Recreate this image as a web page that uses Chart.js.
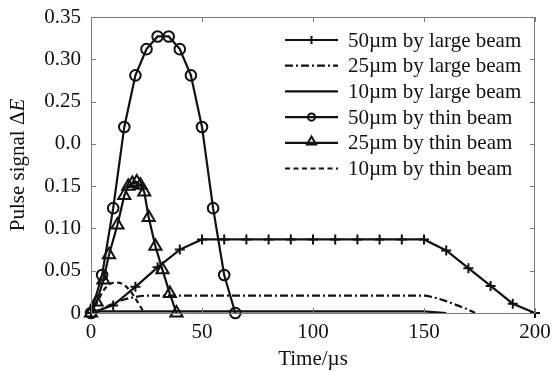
<!DOCTYPE html>
<html>
<head>
<meta charset="utf-8">
<script src="https://cdn.jsdelivr.net/npm/chart.js@4"></script>
<style>
  html, body { margin: 0; padding: 0; background: #fff; }
  #wrap { width: 552px; height: 372px; }
</style>
</head>
<body>
<div id="wrap"><canvas id="pulseChart"></canvas></div>
<script>
// values (time in µs, pulse signal)
const large50X = [0, 10, 20, 30, 40, 50, 60, 70, 80, 90, 100, 110, 120, 130, 140, 150, 160, 170, 180, 190, 200];
const large50Y = [0, 0.009, 0.031, 0.054, 0.075, 0.087, 0.087, 0.087, 0.087, 0.087, 0.087, 0.087, 0.087, 0.087, 0.087, 0.087, 0.074, 0.053, 0.032, 0.011, 0];

const large25X = [0, 5, 10, 15, 20, 25, 150, 155, 160, 165, 170, 173];
const large25Y = [0, 0.005, 0.011, 0.016, 0.019, 0.0205, 0.0205, 0.018, 0.014, 0.009, 0.004, 0];

const large10X = [0, 4, 150, 160];
const large10Y = [0, 0.002, 0.002, 0];

const thin50X = [0, 5, 10, 15, 20, 25, 30, 35, 40, 45, 50, 55, 60, 65];
const thin50Y = [0, 0.045, 0.124, 0.220, 0.281, 0.312, 0.327, 0.327, 0.312, 0.281, 0.220, 0.124, 0.045, 0];

const thin25X = [0, 2.5, 5.6, 8.1, 11.9, 15, 16.8, 18.6, 20.6, 22.3, 24, 26, 29, 32.2, 35.5, 38.5];
const thin25Y = [0, 0.013, 0.039, 0.069, 0.104, 0.139, 0.150, 0.153, 0.155, 0.151, 0.143, 0.113, 0.079, 0.051, 0.023, 0];

const thin10X = [0, 3, 6, 9, 12, 15, 18, 21, 24];
const thin10Y = [0, 0.014, 0.028, 0.035, 0.036, 0.033, 0.025, 0.013, 0];

const seriesNames = ['50µm by large beam', '25µm by large beam', '10µm by large beam',
                     '50µm by thin beam', '25µm by thin beam', '10µm by thin beam'];
const yTickLabels = ['0', '0.05', '0.10', '0.15', '0.0', '0.25', '0.30', '0.35'];
const xTicks = [0, 50, 100, 150, 200];

const FONT = '"Liberation Serif", "Times New Roman", serif';
const INK = '#111';

function toPoints(xs, ys) {
    return xs.map((x, i) => ({ x: x, y: ys[i] }));
}

function makeSet(label, xs, ys, extra) {
    return Object.assign({
        label: label,
        data: toPoints(xs, ys),
        borderColor: INK,
        backgroundColor: 'transparent',
        borderWidth: 2.2,
        pointRadius: 0,
        pointBorderColor: INK,
        pointBackgroundColor: 'transparent',
        pointBorderWidth: 2,
        tension: 0,
        clip: false
    }, extra);
}

const datasets = [
    makeSet(seriesNames[0], large50X, large50Y, { pointStyle: 'cross', pointRadius: 5, legendRadius: 4 }),
    makeSet(seriesNames[1], large25X, large25Y, { borderDash: [8, 3, 2, 3], cubicInterpolationMode: 'monotone' }),
    makeSet(seriesNames[2], large10X, large10Y, {}),
    makeSet(seriesNames[3], thin50X, thin50Y, { pointStyle: 'circle', pointRadius: 5.3, legendRadius: 3.6 }),
    makeSet(seriesNames[4], thin25X, thin25Y, { pointStyle: 'triangle', pointRadius: 7, legendRadius: 5.2 }),
    makeSet(seriesNames[5], thin10X, thin10Y, { borderDash: [5, 3.5], cubicInterpolationMode: 'monotone' })
];

// frame, inward ticks, y title with italic E and the legend
const decorPlugin = {
    id: 'decor',
    afterDraw(chart) {
        const ctx = chart.ctx;
        const a = chart.chartArea;
        const xs = chart.scales.x;
        const ys = chart.scales.y;
        const tl = 5;

        ctx.save();
        ctx.strokeStyle = '#7a7a7a';
        ctx.lineWidth = 1;
        ctx.strokeRect(a.left + 0.5, a.top + 0.5, a.right - a.left - 1, a.bottom - a.top);

        ctx.beginPath();
        xTicks.forEach(v => {
            const px = Math.round(xs.getPixelForValue(v)) + 0.5;
            ctx.moveTo(px, a.bottom); ctx.lineTo(px, a.bottom - tl);
            ctx.moveTo(px, a.top); ctx.lineTo(px, a.top + tl);
        });
        ys.ticks.forEach(t => {
            const py = Math.round(ys.getPixelForValue(t.value)) + 0.5;
            ctx.moveTo(a.left, py); ctx.lineTo(a.left + tl, py);
            ctx.moveTo(a.right, py); ctx.lineTo(a.right - tl, py);
        });
        ctx.stroke();

        // y axis title
        ctx.fillStyle = INK;
        ctx.textBaseline = 'middle';
        ctx.translate(18, (a.top + a.bottom) / 2);
        ctx.rotate(-Math.PI / 2);
        ctx.font = '21px ' + FONT;
        const part1 = 'Pulse signal Δ';
        const w1 = ctx.measureText(part1).width;
        ctx.font = 'italic 21px ' + FONT;
        const w2 = ctx.measureText('E').width;
        const start = -(w1 + w2) / 2;
        ctx.font = '21px ' + FONT;
        ctx.textAlign = 'left';
        ctx.fillText(part1, start, 0);
        ctx.font = 'italic 21px ' + FONT;
        ctx.fillText('E', start + w1, 0);
        ctx.restore();

        // legend
        ctx.save();
        const lx0 = 285, lx1 = 338, tx = 348;
        const rowTop = 40, rowGap = 25.7;
        ctx.font = '21px ' + FONT;
        ctx.textBaseline = 'middle';
        ctx.textAlign = 'left';
        chart.data.datasets.forEach((ds, i) => {
            const y = rowTop + i * rowGap;
            ctx.strokeStyle = INK;
            ctx.lineWidth = 2.2;
            ctx.setLineDash(ds.borderDash || []);
            ctx.beginPath();
            ctx.moveTo(lx0, y);
            ctx.lineTo(lx1, y);
            ctx.stroke();
            ctx.setLineDash([]);
            if (ds.pointRadius > 0) {
                ctx.strokeStyle = INK;
                ctx.fillStyle = 'rgba(0,0,0,0)';
                ctx.lineWidth = 2;
                Chart.helpers.drawPoint(ctx, {
                    pointStyle: ds.pointStyle,
                    radius: ds.legendRadius,
                    rotation: 0,
                    borderWidth: 2
                }, (lx0 + lx1) / 2, ds.pointStyle === 'triangle' ? y - 1 : y);
            }
            ctx.fillStyle = INK;
            ctx.fillText(ds.label, tx, y + 1);
        });
        ctx.restore();
    }
};

new Chart(document.getElementById('pulseChart'), {
    type: 'line',
    data: { datasets: datasets },
    options: {
        responsive: true,
        maintainAspectRatio: false,
        animation: false,
        layout: { padding: { left: 0, top: 17, right: 17, bottom: 0 } },
        plugins: {
            legend: { display: false },
            tooltip: { enabled: false }
        },
        scales: {
            x: {
                type: 'linear',
                min: 0,
                max: 200,
                border: { display: false },
                grid: { display: false, drawTicks: false },
                afterBuildTicks: (scale) => { scale.ticks = xTicks.map(v => ({ value: v })); },
                afterFit: (scale) => {
                    scale.height = 59;
                    scale.paddingLeft = 0;
                    scale.paddingRight = 0;
                },
                ticks: {
                    color: INK,
                    padding: 7,
                    maxRotation: 0,
                    font: { family: FONT, size: 21 }
                },
                title: {
                    display: true,
                    text: 'Time/µs',
                    color: INK,
                    padding: { top: 3, bottom: 0 },
                    font: { family: FONT, size: 21 }
                }
            },
            y: {
                type: 'linear',
                min: 0,
                max: 0.35,
                border: { display: false },
                grid: { display: false, drawTicks: false },
                afterFit: (scale) => {
                    scale.width = 91;
                    scale.paddingTop = 0;
                    scale.paddingBottom = 0;
                },
                ticks: {
                    stepSize: 0.05,
                    color: INK,
                    padding: 10,
                    font: { family: FONT, size: 21 },
                    callback: (value, index) => yTickLabels[index]
                }
            }
        }
    },
    plugins: [decorPlugin]
});
</script>
</body>
</html>
